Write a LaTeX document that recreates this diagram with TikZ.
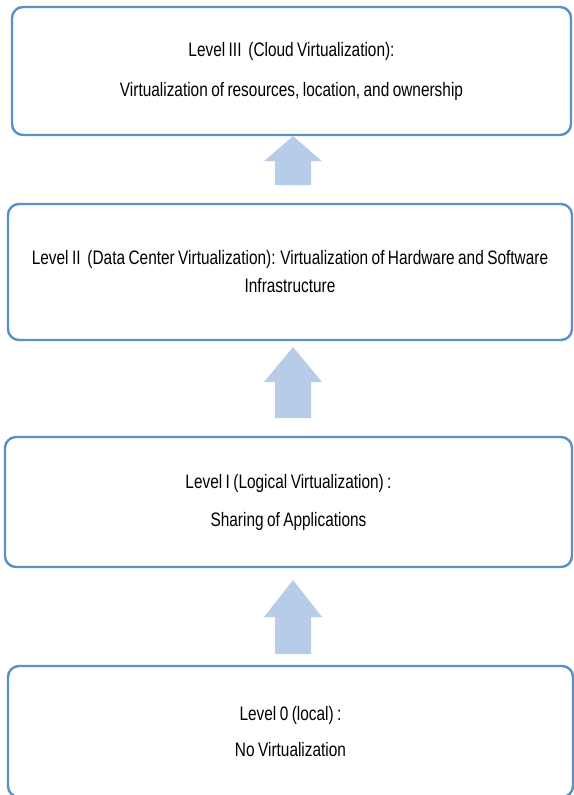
\documentclass[tikz,border=0pt]{standalone}
\usepackage{fontspec}
\setmainfont[FakeStretch=0.79,WordSpace=0.8]{Liberation Sans}
\definecolor{boxline}{HTML}{5B8FCB}
\definecolor{arrowfill}{HTML}{B7CCE9}
\begin{document}
\begin{tikzpicture}[x=1pt,y=-1pt,
  levelbox/.style={draw=boxline, line width=2.4pt, rounded corners=11pt, fill=white, align=center, font=\fontsize{19.5}{23}\selectfont, inner sep=0pt},
  uparrow/.style={fill=arrowfill, draw=none}]
\useasboundingbox (0,0) rectangle (573,795);
% level boxes (corner points in image units)
\node[levelbox, minimum width=559pt, minimum height=128pt] (l3) at (291.5,71)
  {Level III\ \ (Cloud Virtualization):\\[17pt]Virtualization of resources, location, and ownership};
\node[levelbox, minimum width=564pt, minimum height=136pt] (l2) at (290,272)
  {Level II\ \ (Data Center Virtualization): Virtualization of Hardware and Software\\[5pt]Infrastructure};
\node[levelbox, minimum width=567pt, minimum height=130pt] (l1) at (288.5,502)
  {Level I (Logical Virtualization) :\\[15pt]Sharing of Applications};
\node[levelbox, minimum width=565pt, minimum height=131pt] (l0) at (290.5,731.5)
  {Level 0 (local) :\\[13pt]No Virtualization};
% block arrows between levels
\fill[uparrow] (l3.south -| 293,0) -- ++(29,25) -- ++(-11,0) -- ++(0,24) -- ++(-36,0) -- ++(0,-24) -- ++(-11,0) -- cycle;
\coordinate (t2) at (293,347);
\fill[uparrow] (t2) -- ++(29,35) -- ++(-11,0) -- ++(0,36) -- ++(-36,0) -- ++(0,-36) -- ++(-11,0) -- cycle;
\coordinate (t1) at (293,580);
\fill[uparrow] (t1) -- ++(29,37) -- ++(-11,0) -- ++(0,37) -- ++(-36,0) -- ++(0,-37) -- ++(-11,0) -- cycle;
\end{tikzpicture}
\end{document}
